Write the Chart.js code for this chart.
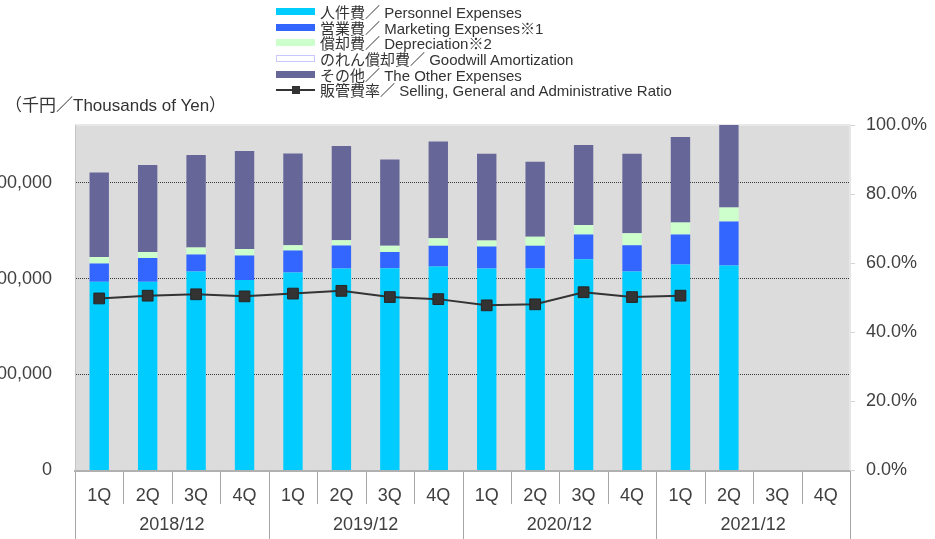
<!DOCTYPE html>
<html>
<head>
<meta charset="utf-8">
<script src="https://cdn.jsdelivr.net/npm/chart.js@4.4.1/dist/chart.umd.min.js"></script>
<style>
html,body{margin:0;padding:0;background:#fff;}
#wrap{position:relative;width:935px;height:539px;overflow:hidden;}
#c{position:absolute;left:0;top:0;}
#legend{position:absolute;left:276px;top:4px;font-family:"Liberation Sans",Arial,"Noto Sans CJK JP",sans-serif;font-size:15px;color:#333;}
.row{height:15.6px;display:flex;align-items:center;white-space:nowrap;}
.sw{width:39px;height:7px;margin-right:5px;box-sizing:border-box;position:relative;flex:none;}
.ln{height:7px;}
.ln:before{content:"";position:absolute;left:0;right:0;top:2.5px;height:2px;background:#333;}
.ln:after{content:"";position:absolute;left:15.5px;top:-0.5px;width:8px;height:8px;background:#333;}
#unit{position:absolute;left:5px;top:91px;font-family:"Liberation Sans",Arial,"Noto Sans CJK JP",sans-serif;font-size:17px;color:#333;white-space:nowrap;}
</style>
</head>
<body>
<div id="wrap">
<canvas id="c" width="935" height="539"></canvas>
<div id="legend"></div>
<div id="unit">（千円／Thousands of Yen）</div>
</div>
<script>
// ---- data ----
const quarters = ['1Q','2Q','3Q','4Q'];
const years = ['2018/12','2019/12','2020/12','2021/12'];
const personnel   = [1966000,1966000,2073000,1986000,2063000,2104000,2108000,2125000,2104000,2104000,2202000,2073000,2146000,2136000,null,null];
const marketing   = [191000,247000,177000,253000,229000,240000,170000,216000,229000,237000,257000,275000,313000,459000,null,null];
const depreciation= [67000,63000,73000,70000,56000,56000,63000,80000,63000,94000,98000,125000,125000,146000,null,null];
const goodwill    = [0,0,0,0,0,0,0,0,0,0,0,0,0,0,null,null];
const other       = [882000,907000,964000,1019000,955000,980000,900000,1007000,904000,782000,834000,827000,891000,900000,null,null];
const sgaRatio    = [49.8,50.6,51.0,50.4,51.2,52.0,50.2,49.6,47.8,48.1,51.6,50.2,50.6,null,null,null];
const leftTicks   = [0,1000000,2000000,3000000];
const rightTicks  = [0,20,40,60,80,100];
const seriesNames = ['人件費／ Personnel Expenses','営業費／ Marketing Expenses※1','償却費／ Depreciation※2','のれん償却費／ Goodwill Amortization','その他／ The Other Expenses','販管費率／ Selling, General and Administrative Ratio'];
const seriesColors= ['#00CCFF','#3366FF','#CCFFCC','#FFFFFF','#666699','#333333'];

const labels = [];
years.forEach(()=>quarters.forEach(q=>labels.push(q)));

// ---- legend (HTML) ----
const lg = document.getElementById('legend');
seriesNames.forEach((n,i)=>{
  const r = document.createElement('div'); r.className='row';
  const s = document.createElement('span'); s.className='sw';
  if (i===5) { s.classList.add('ln'); }
  else if (i===3) { s.style.background='#fff'; s.style.border='1.5px solid #c8c8ff'; }
  else { s.style.background = seriesColors[i]; }
  const t = document.createElement('span'); t.textContent = n;
  r.appendChild(s); r.appendChild(t); lg.appendChild(r);
});

const FONT = "'Liberation Sans', Arial, 'Noto Sans CJK JP', sans-serif";
const TXT = '#404040';

const bgPlugin = {
  id:'bg',
  beforeDraw(chart){
    const {ctx, chartArea:a} = chart;
    ctx.save();
    ctx.fillStyle = '#dcdcdc';
    ctx.fillRect(a.left, a.top, a.right-a.left, a.bottom-a.top);
    ctx.strokeStyle = '#e8e8e8'; ctx.lineWidth = 2;
    ctx.beginPath(); ctx.moveTo(a.left, a.top); ctx.lineTo(a.right, a.top); ctx.lineTo(a.right, a.bottom); ctx.stroke();
    ctx.restore();
  },
  afterDraw(chart){
    const {ctx, chartArea:a} = chart;
    const xs = chart.scales.x;
    const n = labels.length;
    const w = (a.right - a.left)/n;
    ctx.save();
    ctx.strokeStyle = '#a6a6a6'; ctx.lineWidth = 1;
    for (let i=0;i<=n;i++){
      let x;
      if (i<n) x = xs.getPixelForValue(i) - w/2; else x = xs.getPixelForValue(n-1) + w/2;
      x = Math.round(x)+0.5;
      ctx.beginPath();
      ctx.moveTo(x, a.bottom+1);
      ctx.lineTo(x, i%quarters.length===0 ? 539 : 504);
      ctx.stroke();
    }
    ctx.fillStyle = TXT; ctx.font = '18px '+FONT; ctx.textAlign='center'; ctx.textBaseline='middle';
    years.forEach((y,k)=>{
      const x0 = xs.getPixelForValue(k*4), x1 = xs.getPixelForValue(k*4+3);
      ctx.fillText(y, (x0+x1)/2, 525);
    });
    ctx.restore();
  }
};

const barDs = (i, data) => ({
  type:'bar', label: seriesNames[i], data, backgroundColor: seriesColors[i],
  borderWidth: 0, yAxisID:'y', stack:'s', order:1,
  barPercentage:0.4, categoryPercentage:1.0
});

new Chart(document.getElementById('c'), {
  data:{
    labels,
    datasets:[
      { type:'line', label: seriesNames[5], data: sgaRatio, yAxisID:'y1', order:0,
        borderColor:'#333', borderWidth:2, tension:0, spanGaps:false,
        pointStyle:'rect', pointRadius:7.6, pointHoverRadius:7.6,
        pointBackgroundColor:'#333', pointBorderColor:'#262626', pointBorderWidth:1 },
      barDs(0, personnel),
      barDs(1, marketing),
      barDs(2, depreciation),
      barDs(3, goodwill),
      barDs(4, other)
    ]
  },
  options:{
    responsive:false, animation:false,
    layout:{ padding:{ top:125, left:0, right:0, bottom:0 } },
    plugins:{ legend:{display:false}, tooltip:{enabled:false} },
    scales:{
      x:{
        stacked:true,
        grid:{ display:false },
        border:{ display:true, color:'#b0b0b0', width:2 },
        ticks:{ font:{size:18, family:FONT}, color:TXT, padding:7, maxRotation:0, autoSkip:false },
        afterFit(s){ s.height = 68.5; }
      },
      y:{
        stacked:true, position:'left', min:0, max:3600000,
        afterBuildTicks(s){ s.ticks = leftTicks.map(v=>({value:v})); },
        ticks:{ font:{size:18, family:FONT}, color:TXT, padding:23,
          callback:v=>Number(v).toLocaleString('en-US') },
        grid:{ drawTicks:false, lineWidth:1,
          color: c => (c.tick && c.tick.value===0) ? 'rgba(0,0,0,0)' : '#3a3a3a' },
        border:{ display:true, color:'#c4c4c4', width:1, dash:[1,1] },
        afterFit(s){ s.width = 75; }
      },
      y1:{
        position:'right', min:0, max:100,
        afterBuildTicks(s){ s.ticks = rightTicks.map(v=>({value:v})); },
        ticks:{ font:{size:18, family:FONT}, color:TXT, padding:11,
          callback:v=>Number(v).toFixed(1)+'%' },
        grid:{ drawOnChartArea:false, drawTicks:true, tickLength:5, color:'#d4d4d4' },
        border:{ display:true, color:'#e4e4e4', width:1 },
        afterFit(s){ s.width = 85; }
      }
    }
  },
  plugins:[bgPlugin]
});
</script>
</body>
</html>
